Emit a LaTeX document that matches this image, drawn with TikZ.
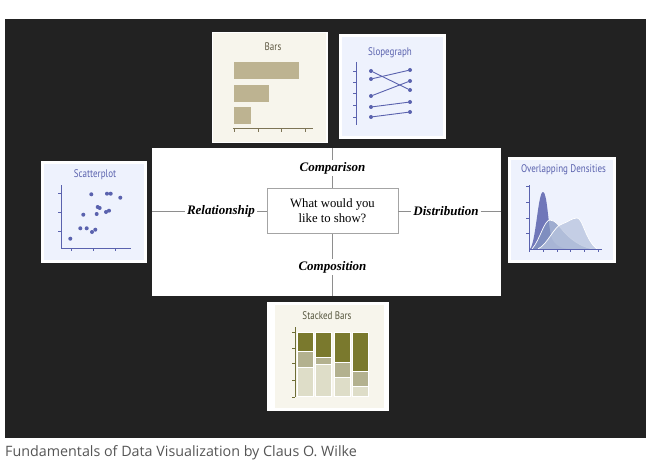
\documentclass[tikz,border=0pt]{standalone}
\usepackage{fontspec}
\setmainfont{Liberation Serif}
\newfontfamily\capfont{Open Sans}
\newfontfamily\thumbfont[FakeStretch=0.82]{PT Sans}
\usetikzlibrary{positioning}

\definecolor{bgdark}{HTML}{222222}
\definecolor{linegray}{HTML}{8E8E8E}
\definecolor{boxgray}{HTML}{A4A4A4}
\definecolor{capgray}{HTML}{555555}
\definecolor{cream}{HTML}{F7F5EC}
\definecolor{barfill}{HTML}{BDB391}
\definecolor{baraxis}{HTML}{7D7456}
\definecolor{bartext}{HTML}{5E5842}
\definecolor{paleblue}{HTML}{EEF2FD}
\definecolor{slate}{HTML}{5A62AE}
\definecolor{densmid}{HTML}{8597C2}
\definecolor{denslight}{HTML}{B7C3DD}
\definecolor{olivedark}{HTML}{7A792D}
\definecolor{olivemid}{HTML}{B3B18F}
\definecolor{olivelight}{HTML}{DEDDC8}
\definecolor{oliveaxis}{HTML}{6E6D35}
\definecolor{olivetext}{HTML}{55553D}

\begin{document}
\begin{tikzpicture}[
        x=1pt, y=-1pt,
        thumb/.style = {
                rectangle,
                fill=white,
                inner sep=0pt,
                outer sep=0pt,
            },
        ttl/.style = {
                font=\thumbfont\fontsize{11}{12}\selectfont,
                inner sep=0pt,
            },
        cat/.style = {
                font=\bfseries\itshape\fontsize{13}{15}\selectfont,
                inner sep=2pt,
            },
        link/.style = {
                draw=linegray,
                line width=0.9pt,
            },
        spot/.style = {
                circle,
                fill=slate,
                inner sep=0pt,
                minimum size=4pt,
            },
    ]
    \useasboundingbox (0,0) rectangle (658,468);
    \fill[bgdark] (5,19) rectangle (646,438);

    \node[thumb, minimum width=349, minimum height=148] (panel) at (326.5,222) {};
    \node[draw=boxgray, line width=0.8pt, fill=white, minimum width=131, minimum height=45,
        align=center, inner sep=0pt, font=\fontsize{12.7}{15}\selectfont] (ask) at (332.5,211) {What would you\\like to show?};
    \node[cat] (cmp) at (332.5,168) {Comparison};
    \node[cat] (cps) at (332.5,267) {Composition};
    \node[cat] (rel) at (221,211) {Relationship};
    \node[cat] (dis) at (446,211) {Distribution};
    \draw[link] (cmp.north |- panel.north) -- (cmp.north);
    \draw[link] (cmp.south) -- (ask.north);
    \draw[link] (ask.south) -- (cps.north);
    \draw[link] (cps.south) -- (cps.south |- panel.south);
    \draw[link] (panel.west |- rel) -- (rel.west);
    \draw[link] (rel.east) -- (ask.west);
    \draw[link] (ask.east) -- (dis.west);
    \draw[link] (dis.east) -- (dis.east -| panel.east);

    % bars
    \node[thumb, minimum width=116, minimum height=111] (bars) at (270,87.5) {};
    \fill[cream] ([xshift=1,yshift=-1]bars.north west) rectangle ([xshift=-2,yshift=1]bars.south east);
    \node[ttl, text=bartext] (barsttl) at (273,47) {Bars};
    \foreach \w/\y in {299/62, 269/85, 251/107}
    \fill[barfill] (234,\y) rectangle (\w,\y+17);
    \draw[baraxis, line width=1pt] (233,129) -- (313,129);
    \foreach \x in {234,258,281,305}
    \draw[baraxis, line width=0.6pt] (\x,129) -- (\x,131.5);

    % slopegraph
    \node[thumb, minimum width=107, minimum height=105] (slope) at (392.5,86.5) {};
    \fill[paleblue] ([xshift=3,yshift=-3]slope.north west) rectangle ([xshift=-3,yshift=3]slope.south east);
    \node[ttl, text=slate] (slopettl) at (390,53) {Slopegraph};
    \draw[slate, line width=1pt] (356,62) -- (356,125);
    \foreach \y in {71,82,93,105,117}
    \draw[slate, line width=0.6pt] (353,\y) -- (356,\y);
    \foreach \a/\b [count=\i] in {71/90, 79/70, 96/81, 107/102, 117/112} {
            \node[spot] (l\i) at (371,\a) {};
            \node[spot] (r\i) at (410,\b) {};
            \draw[slate, line width=0.9pt] (l\i) -- (r\i);
        }

    % scatterplot
    \node[thumb, minimum width=106, minimum height=102] (scat) at (93.5,211.5) {};
    \fill[paleblue] ([xshift=3,yshift=-3]scat.north west) rectangle ([xshift=-3,yshift=3]scat.south east);
    \node[ttl, text=slate] (scatttl) at (95,175) {Scatterplot};
    \draw[slate, line width=1pt] (61,185) -- (61,248) -- (131,248);
    \foreach \y in {193,212,231}
    \draw[slate, line width=0.6pt] (58,\y) -- (61,\y);
    \foreach \x in {71,93,115}
    \draw[slate, line width=0.6pt] (\x,248) -- (\x,251);
    \foreach \x/\y [count=\i] in {
            70.3/238.7,
            80.3/228.3,
            86.7/228.3,
            92/232,
            95.3/229.7,
            83.3/214.7,
            96.7/214,
            97.7/207,
            99.7/208,
            106/212,
            109/210.7,
            91.3/194.3,
            107/193.7,
            110.7/193.7,
            120.3/197.7
        }
    \node[spot] (s\i) at (\x,\y) {};

    % densities
    \node[thumb, minimum width=108, minimum height=106] (dens) at (562,210) {};
    \fill[paleblue] ([xshift=3,yshift=-3]dens.north west) rectangle ([xshift=-3,yshift=3]dens.south east);
    \node[ttl, text=slate] (densttl) at (563.5,170) {Overlapping Densities};
    \fill[slate, opacity=0.85] (530,249) .. controls (536,242) and (538,192) .. (543,192)
    .. controls (547,192) and (548,222) .. (551,236) .. controls (554,246) and (562,249) .. (572,249) -- cycle;
    \filldraw[fill=densmid, fill opacity=0.75, draw=white, line width=0.7pt]
    (532,249) .. controls (540,240) and (544,220) .. (550,220) .. controls (556,220) and (560,228) .. (566,234)
    .. controls (574,242) and (584,248) .. (594,249);
    \filldraw[fill=denslight, fill opacity=0.75, draw=white, line width=0.7pt]
    (538,249) .. controls (548,244) and (554,226) .. (562,224) .. controls (568,222) and (572,218) .. (577,218)
    .. controls (583,218) and (585,240) .. (597,249);
    \draw[slate, line width=1pt] (529,185) -- (529,249) -- (602,249);
    \foreach \y in {186,202,218,233}
    \draw[slate, line width=0.6pt] (526,\y) -- (529,\y);
    \foreach \x in {529,543,557,570,584,598}
    \draw[slate, line width=0.6pt] (\x,249) -- (\x,252);

    % stacked bars
    \node[thumb, minimum width=122, minimum height=109] (stack) at (328,356.5) {};
    \fill[cream] ([xshift=8,yshift=-3]stack.north west) rectangle ([xshift=-5,yshift=3]stack.south east);
    \node[ttl, text=olivetext] (stackttl) at (327,316) {Stacked Bars};
    \foreach \x/\a/\b in {297/351/367, 315.5/357/364, 334/362/377, 352.5/371/386} {
            \filldraw[fill=olivedark, draw=white, line width=0.6pt] (\x,332) rectangle (\x+16,\a);
            \filldraw[fill=olivemid, draw=white, line width=0.6pt] (\x,\a) rectangle (\x+16,\b);
            \filldraw[fill=olivelight, draw=white, line width=0.6pt] (\x,\b) rectangle (\x+16,396);
        }
    \draw[oliveaxis, line width=1pt] (295,327) -- (295,397);
    \foreach \y in {332,348,363,380,397}
    \draw[oliveaxis, line width=0.6pt] (292,\y) -- (295,\y);

    \node[anchor=base west, inner sep=0pt, text=capgray, font=\capfont\fontsize{14.3}{16}\selectfont]
    (credit) at (5,456) {Fundamentals of Data Visualization by Claus O. Wilke};
\end{tikzpicture}
\end{document}
